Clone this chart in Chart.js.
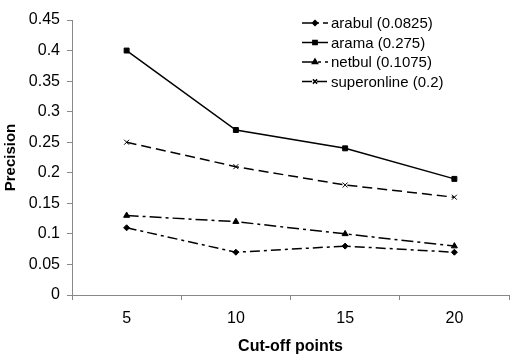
<!DOCTYPE html>
<html>
<head>
<meta charset="utf-8">
<script src="https://cdn.jsdelivr.net/npm/chart.js@4"></script>
<style>
  html, body { margin: 0; padding: 0; background: #fff; }
  #wrap { width: 514px; height: 360px; }
</style>
</head>
<body>
<div id="wrap"><canvas id="chart" width="514" height="360"></canvas></div>
<script>
// Chart data
const cutoffs = ['5', '10', '15', '20'];
const seriesNames = ['arabul (0.0825)', 'arama (0.275)', 'netbul (0.1075)', 'superonline (0.2)'];
const arabul = [0.11, 0.07, 0.08, 0.07];
const arama = [0.40, 0.27, 0.24, 0.19];
const netbul = [0.13, 0.12, 0.10, 0.08];
const superonline = [0.25, 0.21, 0.18, 0.16];

const FONT = 'Liberation Sans, Arial, sans-serif';

// Legend drawn inside plot area (top right)
const innerLegend = {
    id: 'innerLegend',
    afterDraw(chart) {
        const ctx = chart.ctx;
        const x0 = 302, x1 = 328, y0 = 23, step = 19.5;
        ctx.save();
        chart.data.datasets.forEach((ds, i) => {
            const y = y0 + i * step;
            ctx.strokeStyle = '#000';
            ctx.lineWidth = ds.borderWidth;
            ctx.setLineDash(ds.borderDash || []);
            ctx.beginPath();
            ctx.moveTo(x0, y);
            ctx.lineTo(x1, y);
            ctx.stroke();
            ctx.setLineDash([]);
            Chart.helpers.drawPoint(ctx, {
                pointStyle: ds.pointStyle,
                radius: ds.pointRadius - 0.5,
                borderWidth: 1
            }, (x0 + x1) / 2, y);
            ctx.fillStyle = '#000';
            ctx.font = '15px ' + FONT;
            ctx.textBaseline = 'middle';
            ctx.textAlign = 'left';
            ctx.fillText(seriesNames[i], 331, y + 1);
        });
        ctx.restore();
    }
};

function lineSet(label, data, dash, style, radius) {
    return {
        label: label,
        data: data,
        borderColor: '#000',
        backgroundColor: '#000',
        borderWidth: 1.5,
        borderDash: dash,
        pointStyle: style,
        pointRadius: radius,
        pointBorderWidth: 1,
        pointBorderColor: '#000',
        pointBackgroundColor: '#000',
        tension: 0,
        fill: false
    };
}

new Chart(document.getElementById('chart'), {
    type: 'line',
    data: {
        labels: cutoffs,
        datasets: [
            lineSet(seriesNames[0], arabul, [10, 4, 3, 4], 'rectRot', 3),
            lineSet(seriesNames[1], arama, [], 'rect', 3.5),
            lineSet(seriesNames[2], netbul, [12, 4, 3, 4], 'triangle', 3.5),
            lineSet(seriesNames[3], superonline, [10, 5], 'crossRot', 3.5)
        ]
    },
    options: {
        responsive: false,
        animation: false,
        devicePixelRatio: 1,
        layout: { padding: { top: 20, right: -3, left: 0, bottom: 0 } },
        plugins: {
            legend: { display: false },
            tooltip: { enabled: false }
        },
        scales: {
            x: {
                offset: true,
                grid: {
                    offset: true,
                    drawOnChartArea: false,
                    tickLength: 5,
                    color: '#888'
                },
                border: { color: '#888', width: 1 },
                ticks: {
                    color: '#000',
                    padding: 9,
                    font: { family: FONT, size: 16 }
                },
                title: {
                    display: true,
                    text: 'Cut-off points',
                    color: '#000',
                    padding: { top: 0, bottom: 4 },
                    font: { family: FONT, size: 16, weight: 'bold' }
                },
                afterFit: s => { s.height = 65; }
            },
            y: {
                min: 0,
                max: 0.45,
                grid: {
                    drawOnChartArea: false,
                    tickLength: 5,
                    color: '#888'
                },
                border: { color: '#888', width: 1 },
                ticks: {
                    stepSize: 0.05,
                    color: '#000',
                    padding: 7,
                    font: { family: FONT, size: 16 },
                    callback: v => String(Math.round(v * 100) / 100)
                },
                title: {
                    display: true,
                    text: 'Precision',
                    color: '#000',
                    padding: { top: 2, bottom: 0 },
                    font: { family: FONT, size: 15, weight: 'bold' }
                },
                afterFit: s => { s.width = 72; }
            }
        }
    },
    plugins: [innerLegend]
});
</script>
</body>
</html>
